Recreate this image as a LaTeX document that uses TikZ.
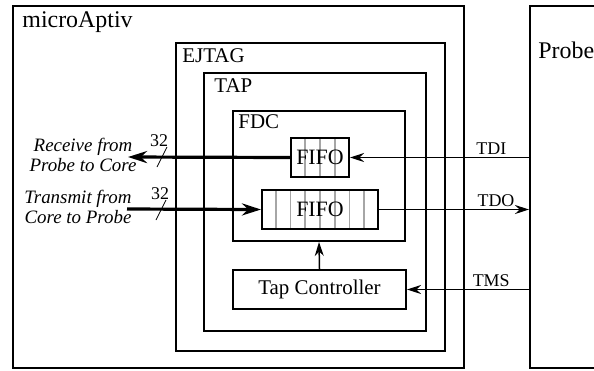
\documentclass[tikz,border=0pt]{standalone}
\usepackage{fontspec}
\setmainfont{Liberation Serif}
\usetikzlibrary{calc, positioning, fit, backgrounds, arrows.meta}

\begin{document}
\begin{tikzpicture}[
        x=0.5bp, y=-0.5bp,
        box/.style={rectangle, draw=black, line width=1bp, inner sep=0pt},
        boxtext/.style={font=\fontsize{11}{12}\selectfont, inner sep=0pt},
        title/.style={font=\fontsize{10.5}{12}\selectfont, inner sep=0pt, anchor=west},
        sig/.style={-{Stealth[length=7bp, width=4.5bp]}, line width=0.75bp},
        bus/.style={-{Stealth[length=9.5bp, width=6bp]}, line width=1.6bp},
        note/.style={font=\fontsize{9.5}{10}\selectfont\itshape, align=center, inner sep=0pt},
        pin/.style={font=\fontsize{9}{10}\selectfont, inner sep=1bp},
        cell/.style={gray!70, line width=0.8bp}
    ]
    \useasboundingbox (0,0) rectangle (594,370);

    % Kaesten
    \node[box, fit={(13,6) (464,368)}] (micro) {};
    \node[box, fit={(530,6) (660,368)}] (probe) {};
    \node[box, fit={(176,43) (445,351)}] (ejtag) {};
    \node[box, fit={(204,73) (426,331)}] (tap) {};
    \node[box, fit={(233,111) (405,241)}] (fdc) {};
    \node[box, fit={(291,138) (349,177)}] (fifoin) {};
    \node[box, fit={(262,190) (378,229)}] (fifoout) {};
    \node[box, fit={(233,270) (406,309)}] (tapctl) {};
    \node[boxtext] (fifointext) at (fifoin.center) {FIFO};
    \node[boxtext] (fifoouttext) at (fifoout.center) {FIFO};
    \node[boxtext, font=\fontsize{10.5}{12}\selectfont] (tapctltext) at (tapctl.center) {Tap Controller};

    % Titel
    \node[title, font=\fontsize{12}{14}\selectfont] at ([shift={(10,17)}]micro.north west) {microAptiv};
    \node[title, font=\fontsize{12}{14}\selectfont] at ([shift={(9,45)}]probe.north west) {Probe};
    \node[title] at ([shift={(7,14)}]ejtag.north west) {EJTAG};
    \node[title] at ([shift={(11,14)}]tap.north west) {TAP};
    \node[title] at ([shift={(6,12)}]fdc.north west) {FDC};

    % FIFO-Zellen
    \begin{scope}[on background layer]
        \foreach \i in {1,...,3}
            \draw[cell] ($(fifoin.north west)!\i/4!(fifoin.north east)$) -- ($(fifoin.south west)!\i/4!(fifoin.south east)$);
        \foreach \i in {1,...,7}
            \draw[cell] ($(fifoout.north west)!\i/8!(fifoout.north east)$) -- ($(fifoout.south west)!\i/8!(fifoout.south east)$);
    \end{scope}

    % Signale zur Probe
    \draw[sig] (probe.west |- fifoin.east) -- (fifoin.east) node[pin, pos=0.21, above] {TDI};
    \draw[sig] (fifoout.east) -- (probe.west |- fifoout.east) node[pin, pos=0.78, above] {TDO};
    \draw[sig] (probe.west |- tapctl.east) -- (tapctl.east) node[pin, pos=0.31, above] {TMS};
    \draw[sig] (tapctl.north) -- (fdc.south);

    % Busse zum Core
    \coordinate (rx) at (128,157);
    \coordinate (tx) at (127,209);
    \draw[bus] (fifoin.west) -- (rx);
    \draw[bus] (tx) -- (fifoout.west);
    \coordinate (rxcut) at (162,157);
    \coordinate (txcut) at (161,210);
    \draw[thin] ([shift={(-5,10)}]rxcut) -- ([shift={(5,-10)}]rxcut) node[pin, anchor=south, xshift=-4bp, inner sep=0pt] {32};
    \draw[thin] ([shift={(-5,10)}]txcut) -- ([shift={(5,-10)}]txcut) node[pin, anchor=south, xshift=-3bp, inner sep=0pt] {32};
    \node[note] (rxlbl) at (83,155) {Receive from\\Probe to Core};
    \node[note] (txlbl) at (78,207) {Transmit from\\Core to Probe};

    \end{tikzpicture}
\end{document}
